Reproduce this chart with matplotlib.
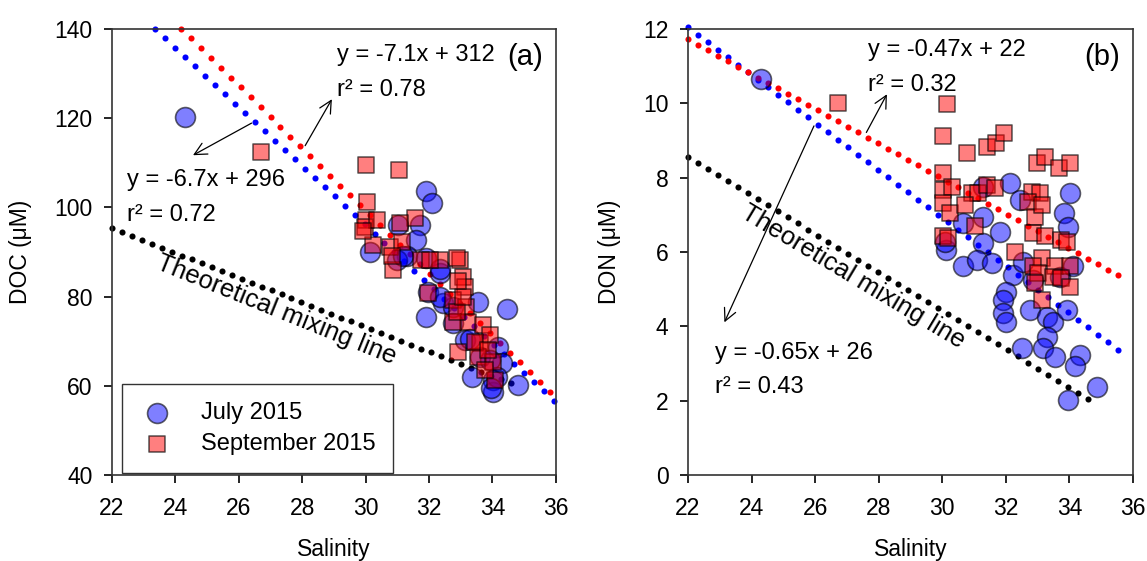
import numpy as np
import matplotlib
matplotlib.use("Agg")
import matplotlib.pyplot as plt

plt.rcParams['font.family'] = ['Liberation Sans', 'DejaVu Sans']
plt.rcParams['font.size'] = 16

# ---- panel (a): DOC vs salinity ----
a_jul_sal = [24.3, 31.89, 32.1, 31.71, 31.6, 30.14, 31.3, 31.92, 30.98, 32.34,
             31.97, 32.45, 31.92, 32.76, 33.55, 34.45, 33.14, 34.18, 33.35, 34.03,
             34.81, 34.03, 34.29, 33.6, 32.76, 32.34, 33.92, 34.13, 31.03, 31.19,
             32.34, 33.97, 33.29]
a_jul_doc = [120.3, 103.7, 100.9, 96.1, 92.8, 90.1, 89.0, 88.6, 88.2, 85.2,
             81.1, 78.5, 75.5, 74.0, 78.9, 77.2, 70.3, 68.8, 62.0, 61.3,
             60.2, 58.7, 65.0, 66.5, 77.7, 80.0, 65.8, 62.0, 96.1, 89.0,
             86.3, 59.4, 70.6]
a_sep_sal = [26.71, 30.01, 31.05, 30.05, 30.01, 29.98, 30.35, 31.55, 31.08, 30.24,
             30.77, 31.14, 30.87, 30.82, 31.76, 32.34, 32.97, 33.08, 33.13, 31.97,
             32.76, 33.18, 33.24, 33.71, 32.76, 32.92, 33.6, 33.92, 33.55, 34.03,
             34.08, 32.87, 33.45, 33.87, 33.76, 33.08, 32.9, 29.93, 32.03, 32.87]
a_sep_doc = [112.5, 109.5, 108.4, 101.3, 97.2, 95.7, 97.2, 97.6, 96.4, 91.6,
             91.2, 92.3, 86.0, 89.0, 88.2, 88.2, 88.2, 84.5, 82.2, 80.7,
             79.2, 77.7, 74.4, 73.6, 74.4, 67.6, 69.5, 71.4, 66.5, 65.4,
             61.3, 76.6, 69.9, 68.0, 63.5, 79.8, 83.5, 94.6, 88.2, 88.6]

# ---- panel (b): DON vs salinity ----
b_jul_sal = [24.3, 32.13, 32.44, 34.02, 33.83, 33.96, 31.29, 30.66, 31.81, 31.29,
             30.12, 30.64, 31.08, 31.55, 32.23, 32.55, 32.02, 31.92, 31.92, 32.02,
             32.76, 33.29, 33.49, 33.91, 33.29, 33.18, 32.5, 33.54, 34.33, 34.17,
             34.86, 33.96, 33.7, 34.12, 32.86, 31.29, 30.08]
b_jul_don = [10.65, 7.85, 7.4, 7.6, 7.06, 6.68, 6.95, 6.77, 6.55, 6.23,
             6.05, 5.61, 5.78, 5.7, 5.38, 5.74, 4.93, 4.71, 4.35, 4.13,
             4.44, 4.26, 4.13, 4.44, 3.72, 3.41, 3.41, 3.18, 3.23, 2.92,
             2.38, 2.02, 5.34, 5.61, 5.25, 7.76, 6.28]
b_sep_sal = [26.71, 30.14, 30.01, 30.77, 31.4, 31.69, 31.95, 32.97, 33.23, 33.68,
             34.02, 30.03, 30.03, 30.3, 30.92, 31.13, 31.4, 31.66, 32.81, 33.07,
             30.03, 30.24, 30.71, 31.03, 32.7, 32.92, 33.13, 32.86, 33.23, 30.03,
             30.19, 33.75, 33.91, 32.29, 33.13, 32.86, 33.54, 34.02, 33.02, 33.49,
             33.75, 34.02, 33.13, 32.92]
b_sep_don = [10.02, 9.98, 9.12, 8.66, 8.83, 8.93, 9.19, 8.40, 8.55, 8.25,
             8.40, 8.12, 7.67, 7.76, 7.58, 7.58, 7.8, 7.71, 7.62, 7.58,
             7.31, 7.04, 7.27, 6.71, 7.35, 6.95, 7.27, 6.52, 6.43, 6.43,
             6.37, 6.32, 6.28, 6.01, 5.83, 5.61, 5.61, 5.61, 5.43, 5.34,
             5.29, 5.07, 4.71, 5.16]

# fitted / mixing lines as drawn: slope, intercept, x start, x end
a_lines = {'blue': (-6.62, 294.6, 23.36, 36.0),
           'red': (-7.0, 309.3, 24.17, 35.88),
           'black': (-2.76, 156.0, 22.0, 34.8)}
b_lines = {'blue': (-0.641, 26.15, 22.0, 35.75),
           'red': (-0.47, 22.07, 22.0, 35.75),
           'black': (-0.517, 19.93, 22.0, 34.8)}
DOT_STEP = 0.3146

blue_face = (0.0, 0.0, 1.0, 0.5)
red_face = (1.0, 0.0, 0.0, 0.5)
edge = (0.0, 0.0, 0.0, 0.6)


def draw_lines(ax, lines):
    for color, (m, b, x0, x1) in lines.items():
        xs = np.arange(x0, x1 + 0.01, DOT_STEP)
        ax.plot(xs, m * xs + b, 'o', ms=4.4, mew=0, color=color, zorder=1, clip_on=False)


def style_axes(ax, xlim, ylim, yticks, ylabel):
    ax.set_xlim(*xlim)
    ax.set_ylim(*ylim)
    ax.set_xticks(np.arange(22, 37, 2))
    ax.set_yticks(yticks)
    ax.tick_params(direction='out', length=6, width=1.2, pad=10, labelsize=16.5,
                   top=False, right=False)
    ax.tick_params(axis='y', pad=8)
    for s in ax.spines.values():
        s.set_linewidth(1.2)
        s.set_color('#333333')
    ax.set_xlabel('Salinity', fontsize=16.5, labelpad=13)
    ax.set_ylabel(ylabel, fontsize=16.5, labelpad=16)


fig = plt.figure(figsize=(11.47, 5.61), dpi=100)
ax1 = fig.add_axes([0.0976, 0.1533, 0.387, 0.795])
ax2 = fig.add_axes([0.5998, 0.1533, 0.388, 0.795])

# panel (a)
draw_lines(ax1, a_lines)
ax1.scatter(a_jul_sal, a_jul_doc, s=205, marker='o', facecolor=blue_face,
            edgecolor=edge, linewidth=1.2, zorder=2, label='July 2015')
ax1.scatter(a_sep_sal, a_sep_doc, s=135, marker='s', facecolor=red_face,
            edgecolor=edge, linewidth=1.2, zorder=3, label='September 2015')
style_axes(ax1, (22, 36), (40, 140), np.arange(40, 141, 20), 'DOC (\u03bcM)')

ax1.text(29.1, 134.2, 'y = -7.1x + 312', fontsize=17, ha='left', va='center')
ax1.text(29.1, 126.3, 'r\u00b2 = 0.78', fontsize=17, ha='left', va='center')
ax1.text(22.47, 106.1, 'y = -6.7x + 296', fontsize=17, ha='left', va='center')
ax1.text(22.47, 98.3, 'r\u00b2 = 0.72', fontsize=17, ha='left', va='center')
ax1.text(35.6, 133.7, '(a)', fontsize=21, ha='right', va='center')
ax1.text(27.2, 77.0, 'Theoretical mixing line', fontsize=18.5, rotation=-22,
         ha='center', va='center', rotation_mode='anchor')
arrow = dict(arrowstyle='->', lw=0.9, color='black', mutation_scale=22)
ax1.annotate('', xy=(24.48, 111.4), xytext=(26.48, 119.2), arrowprops=arrow)
ax1.annotate('', xy=(28.98, 124.8), xytext=(28.05, 113.3), arrowprops=arrow)

leg = ax1.legend(loc='lower left', bbox_to_anchor=(0.0225, 0.0045), borderaxespad=0,
                 fontsize=17, frameon=True, fancybox=False, scatterpoints=1,
                 handlelength=1.5, handletextpad=1.1, borderpad=0.75, labelspacing=0.4)
leg.get_frame().set_edgecolor('black')
leg.get_frame().set_linewidth(1.0)

# panel (b)
draw_lines(ax2, b_lines)
ax2.scatter(b_jul_sal, b_jul_don, s=205, marker='o', facecolor=blue_face,
            edgecolor=edge, linewidth=1.2, zorder=2)
ax2.scatter(b_sep_sal, b_sep_don, s=135, marker='s', facecolor=red_face,
            edgecolor=edge, linewidth=1.2, zorder=3)
style_axes(ax2, (22, 36), (0, 12), np.arange(0, 13, 2), 'DON (\u03bcM)')

ax2.text(27.66, 11.43, 'y = -0.47x + 22', fontsize=17, ha='left', va='center')
ax2.text(27.66, 10.49, 'r\u00b2 = 0.32', fontsize=17, ha='left', va='center')
ax2.text(22.85, 3.28, 'y = -0.65x + 26', fontsize=17, ha='left', va='center')
ax2.text(22.85, 2.37, 'r\u00b2 = 0.43', fontsize=17, ha='left', va='center')
ax2.text(35.6, 11.25, '(b)', fontsize=21, ha='right', va='center')
ax2.text(27.19, 5.33, 'Theoretical mixing line', fontsize=18.5, rotation=-31,
         ha='center', va='center', rotation_mode='anchor')
ax2.annotate('', xy=(28.3, 10.31), xytext=(27.57, 9.15), arrowprops=arrow)
ax2.annotate('', xy=(23.11, 4.04), xytext=(26.0, 9.46), arrowprops=arrow)

fig.savefig('out.png', dpi=100)
